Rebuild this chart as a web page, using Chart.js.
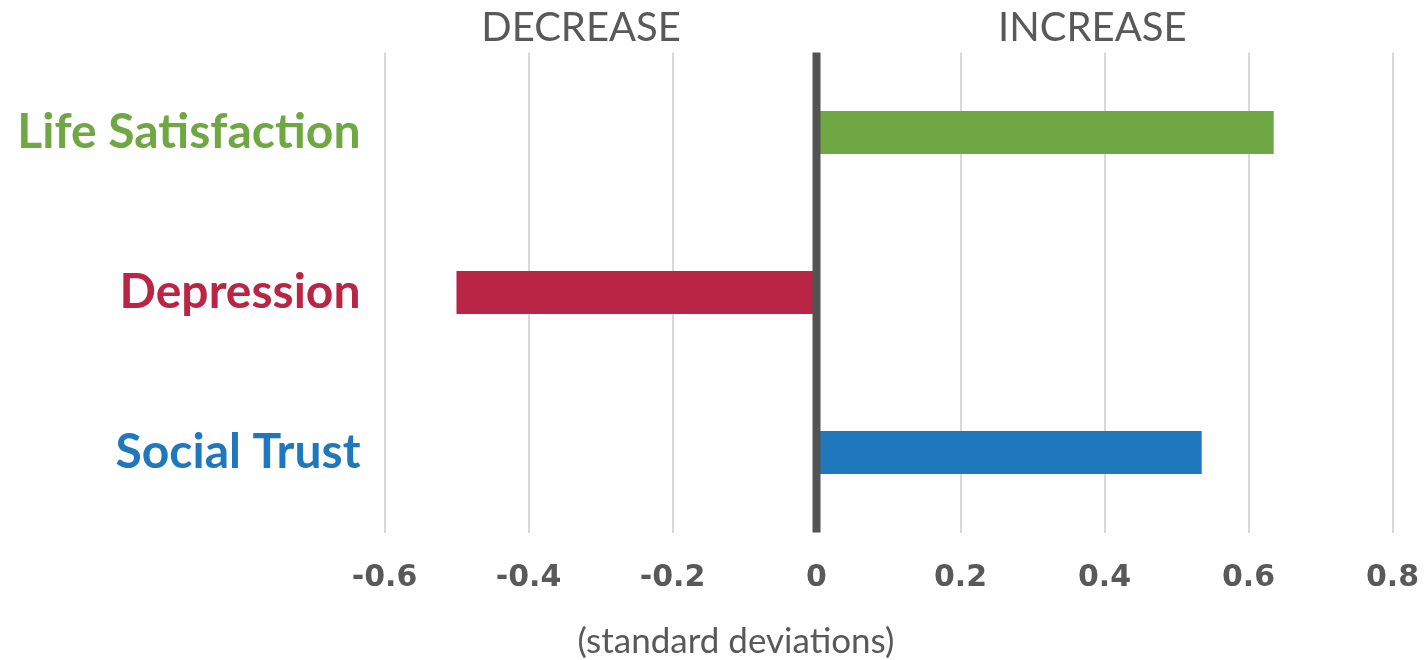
<!DOCTYPE html>
<html>
<head>
<meta charset="utf-8">
<script src="https://cdn.jsdelivr.net/npm/chart.js@4"></script>
<style>
  html, body { margin: 0; padding: 0; background: #ffffff; }
  #wrap { width: 1428px; height: 660px; }
</style>
</head>
<body>
<div id="wrap"><canvas id="chart" width="1428" height="660"></canvas></div>
<script>
// Outcome measures and their change, in standard deviations
const categories = ['Life Satisfaction', 'Depression', 'Social Trust'];
const effectSizes = [0.635, -0.5, 0.535];
const tickValues = [-0.6, -0.4, -0.2, 0, 0.2, 0.4, 0.6, 0.8];
const directionLabels = ['DECREASE', 'INCREASE'];
const axisNote = '(standard deviations)';

const barColors = ['#6fa843', '#ba2546', '#1f77bc'];
const textGray = '#595959';

// Heavy zero line drawn over the bars, plus the direction headers and unit note
const annotations = {
  id: 'annotations',
  afterDatasetsDraw(chart) {
    const { ctx, chartArea, scales } = chart;
    const x0 = scales.x.getPixelForValue(0);
    ctx.save();
    ctx.fillStyle = '#535353';
    ctx.fillRect(x0 - 4, chartArea.top, 8, chartArea.bottom - chartArea.top);

    ctx.fillStyle = textGray;
    ctx.textAlign = 'center';
    ctx.textBaseline = 'middle';
    ctx.font = '40px Lato, "Open Sans", sans-serif';
    ctx.fillText(directionLabels[0], scales.x.getPixelForValue(-0.327), 28);
    ctx.fillText(directionLabels[1], scales.x.getPixelForValue(0.383), 28);

    ctx.font = '35px Lato, "Open Sans", sans-serif';
    ctx.fillText(axisNote, scales.x.getPixelForValue(-0.112), 642);
    ctx.restore();
  }
};

new Chart(document.getElementById('chart'), {
  type: 'bar',
  data: {
    labels: categories,
    datasets: [{
      data: effectSizes,
      backgroundColor: barColors,
      borderWidth: 0,
      categoryPercentage: 1,
      barPercentage: 0.27
    }]
  },
  plugins: [annotations],
  options: {
    indexAxis: 'y',
    responsive: false,
    animation: false,
    layout: { padding: { top: 52.5, right: 35.5, bottom: 0, left: 0 } },
    plugins: {
      legend: { display: false },
      tooltip: { enabled: false }
    },
    scales: {
      x: {
        min: -0.6,
        max: 0.8,
        afterBuildTicks(scale) {
          scale.ticks = tickValues.map(v => ({ value: v }));
        },
        afterFit(scale) {
          scale.height = 127.5;
          scale.paddingLeft = 0;
          scale.paddingRight = 0;
        },
        border: { display: false },
        grid: {
          drawTicks: false,
          lineWidth: 2,
          color: ctx => (ctx.tick && ctx.tick.value === 0) ? 'rgba(0,0,0,0)' : '#d9d9d9'
        },
        ticks: {
          padding: 28,
          maxRotation: 0,
          color: textGray,
          font: { family: '"DejaVu Sans", Verdana, sans-serif', size: 30, weight: 'bold' },
          callback: v => (v === 0 ? '0' : String(Math.round(v * 10) / 10))
        }
      },
      y: {
        afterFit(scale) {
          scale.width = 384.5;
          scale.paddingTop = 0;
          scale.paddingBottom = 0;
        },
        border: { display: false },
        grid: { display: false, drawTicks: false },
        ticks: {
          padding: 24,
          color: ctx => barColors[ctx.index],
          font: { family: 'Lato, "Open Sans", sans-serif', size: 48, weight: 'bold' }
        }
      }
    }
  }
});
</script>
</body>
</html>
